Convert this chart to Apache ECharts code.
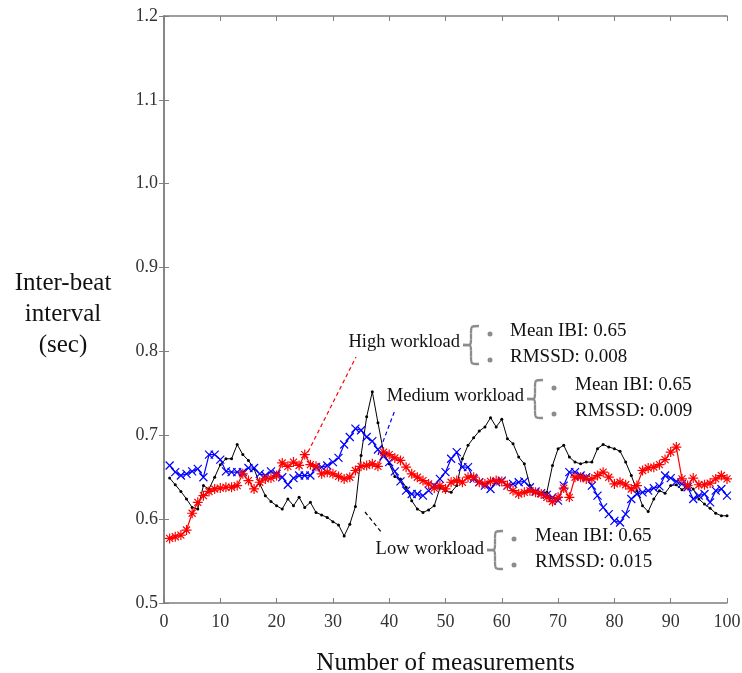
<!DOCTYPE html>
<html>
<head>
<meta charset="utf-8">
<script src="https://cdn.jsdelivr.net/npm/echarts@6/dist/echarts.min.js"></script>
<style>
  html, body { margin: 0; padding: 0; background: #fff; }
  #chart { width: 742px; height: 673px; }
</style>
</head>
<body>
<div id="chart"></div>
<script>
const lowWorkload = [
  0.649, 0.641, 0.633, 0.624, 0.614, 0.612, 0.640, 0.636, 0.650, 0.665,
  0.672, 0.672, 0.689, 0.677, 0.670, 0.660, 0.642, 0.628, 0.621, 0.616,
  0.612, 0.624, 0.616, 0.626, 0.614, 0.620, 0.608, 0.605, 0.602, 0.597,
  0.593, 0.580, 0.594, 0.615, 0.676, 0.722, 0.752, 0.715, 0.680, 0.666,
  0.651, 0.648, 0.638, 0.622, 0.612, 0.608, 0.611, 0.616, 0.637, 0.634,
  0.632, 0.640, 0.672, 0.688, 0.697, 0.705, 0.710, 0.721, 0.710, 0.719,
  0.696, 0.690, 0.674, 0.666, 0.640, 0.632, 0.631, 0.632, 0.664, 0.684,
  0.688, 0.674, 0.668, 0.666, 0.668, 0.668, 0.684, 0.689, 0.686, 0.684,
  0.681, 0.668, 0.652, 0.634, 0.616, 0.609, 0.624, 0.634, 0.631, 0.640,
  0.641, 0.635, 0.641, 0.636, 0.624, 0.618, 0.613, 0.607, 0.604, 0.604
];
const mediumWorkload = [
  0.664, 0.656, 0.652, 0.654, 0.657, 0.660, 0.650, 0.677, 0.677, 0.671,
  0.657, 0.656, 0.656, 0.656, 0.661, 0.661, 0.654, 0.652, 0.657, 0.654,
  0.650, 0.641, 0.649, 0.652, 0.652, 0.652, 0.662, 0.662, 0.664, 0.668,
  0.673, 0.689, 0.698, 0.708, 0.706, 0.698, 0.693, 0.683, 0.675, 0.668,
  0.657, 0.645, 0.634, 0.630, 0.630, 0.628, 0.634, 0.640, 0.648, 0.656,
  0.672, 0.680, 0.662, 0.662, 0.648, 0.644, 0.640, 0.636, 0.644, 0.646,
  0.640, 0.642, 0.644, 0.645, 0.638, 0.633, 0.631, 0.629, 0.626, 0.622,
  0.640, 0.656, 0.656, 0.652, 0.650, 0.640, 0.628, 0.614, 0.606, 0.598,
  0.596, 0.606, 0.624, 0.630, 0.632, 0.634, 0.637, 0.639, 0.652, 0.649,
  0.645, 0.642, 0.638, 0.624, 0.628, 0.630, 0.620, 0.634, 0.636, 0.628
];
const highWorkload = [
  0.577, 0.579, 0.581, 0.587, 0.607, 0.620, 0.628, 0.633, 0.636, 0.637,
  0.638, 0.638, 0.640, 0.654, 0.646, 0.636, 0.644, 0.648, 0.649, 0.652,
  0.667, 0.663, 0.668, 0.664, 0.677, 0.665, 0.663, 0.654, 0.656, 0.654,
  0.651, 0.648, 0.650, 0.658, 0.663, 0.664, 0.666, 0.663, 0.680, 0.677,
  0.673, 0.670, 0.662, 0.654, 0.650, 0.646, 0.642, 0.637, 0.640, 0.636,
  0.644, 0.646, 0.644, 0.650, 0.650, 0.644, 0.642, 0.645, 0.646, 0.645,
  0.640, 0.634, 0.630, 0.632, 0.634, 0.632, 0.630, 0.626, 0.621, 0.626,
  0.637, 0.626, 0.650, 0.650, 0.648, 0.648, 0.652, 0.656, 0.650, 0.642,
  0.644, 0.641, 0.636, 0.640, 0.658, 0.661, 0.662, 0.665, 0.671, 0.680,
  0.686, 0.648, 0.640, 0.649, 0.641, 0.641, 0.643, 0.648, 0.652, 0.648
];

const workloadNames = ['High workload', 'Medium workload', 'Low workload'];
const meanIBI = ['0.65', '0.65', '0.65'];
const rmssd = ['0.008', '0.009', '0.015'];

const toPoints = arr => arr.map((v, i) => [i + 1, v]);

const FONT = 'Liberation Serif';
const FRAME = '#7f7f7f';
const BRACE = '#8c8c8c';

const chart = echarts.init(document.getElementById('chart'));

// curly brace made of curves, tip on the left
function brace(x, y, w, h) {
  const m = x + w / 2;
  const st = { stroke: BRACE, lineWidth: 2.3, fill: null };
  return [
    { type: 'bezierCurve', shape: { x1: x + w, y1: y, cpx1: m, cpy1: y, cpx2: m, cpy2: y, x2: m, y2: y + h * 0.2 }, style: st },
    { type: 'line', shape: { x1: m, y1: y + h * 0.2, x2: m, y2: y + h * 0.36 }, style: st },
    { type: 'bezierCurve', shape: { x1: m, y1: y + h * 0.36, cpx1: m, cpy1: y + h * 0.5, cpx2: m, cpy2: y + h * 0.5, x2: x, y2: y + h * 0.5 }, style: st },
    { type: 'bezierCurve', shape: { x1: x, y1: y + h * 0.5, cpx1: m, cpy1: y + h * 0.5, cpx2: m, cpy2: y + h * 0.5, x2: m, y2: y + h * 0.64 }, style: st },
    { type: 'line', shape: { x1: m, y1: y + h * 0.64, x2: m, y2: y + h * 0.8 }, style: st },
    { type: 'bezierCurve', shape: { x1: m, y1: y + h * 0.8, cpx1: m, cpy1: y + h, cpx2: m, cpy2: y + h, x2: x + w, y2: y + h }, style: st }
  ];
}

// annotation blocks: label right edge, label y, text x, first/second text line y
const blocks = [
  { right: 460, ly: 342, tx: 510, t1: 331, t2: 357 },
  { right: 524, ly: 396, tx: 575, t1: 385, t2: 411 },
  { right: 484, ly: 549, tx: 535, t1: 536, t2: 562 }
];

const graphic = [
  {
    type: 'text', x: 63, y: 268,
    style: { text: 'Inter-beat\ninterval\n(sec)', font: `25px "${FONT}"`, fill: '#111', align: 'center', verticalAlign: 'top', lineHeight: 31 }
  },
  // pointer lines
  { type: 'line', shape: { x1: 308, y1: 452, x2: 356, y2: 357 }, style: { stroke: '#ff0000', lineWidth: 1.2, lineDash: [4, 3] } },
  { type: 'line', shape: { x1: 378, y1: 455, x2: 395, y2: 410 }, style: { stroke: '#0000ff', lineWidth: 1.2, lineDash: [4, 3] } },
  { type: 'line', shape: { x1: 365, y1: 512, x2: 382, y2: 533 }, style: { stroke: '#000000', lineWidth: 1.2, lineDash: [4, 3] } }
];

blocks.forEach((b, i) => {
  const bx = b.right + 3;
  graphic.push(
    { type: 'text', x: b.right, y: b.ly, style: { text: workloadNames[i], font: `18.5px "${FONT}"`, fill: '#111', align: 'right', verticalAlign: 'middle' } },
    ...brace(bx, b.t1 - 5, 16, 38),
    { type: 'circle', shape: { cx: bx + 27, cy: b.t1 + 3, r: 2.5 }, style: { fill: BRACE } },
    { type: 'circle', shape: { cx: bx + 27, cy: b.t2 + 3, r: 2.5 }, style: { fill: BRACE } },
    { type: 'text', x: b.tx, y: b.t1, style: { text: 'Mean IBI: ' + meanIBI[i], font: `19px "${FONT}"`, fill: '#111', verticalAlign: 'middle' } },
    { type: 'text', x: b.tx, y: b.t2, style: { text: 'RMSSD: ' + rmssd[i], font: `19px "${FONT}"`, fill: '#111', verticalAlign: 'middle' } }
  );
});

const frameAxis = {
  axisLine: { show: true, lineStyle: { color: FRAME, width: 1.5 } },
  axisTick: { show: true, inside: true, length: 5, lineStyle: { color: FRAME } },
  splitLine: { show: false }
};

const option = {
  animation: false,
  backgroundColor: '#fff',
  grid: { left: 164, right: 15, top: 16, bottom: 70, outerBoundsMode: 'none', containLabel: false },
  xAxis: [
    {
      type: 'value', min: 0, max: 100, interval: 10,
      name: 'Number of measurements', nameLocation: 'middle', nameGap: 48,
      nameTextStyle: { fontFamily: FONT, fontSize: 25, color: '#111' },
      axisLabel: { fontFamily: FONT, fontSize: 18, color: '#333', margin: 10 },
      ...frameAxis
    },
    {
      type: 'value', min: 0, max: 100, interval: 10, position: 'top',
      axisLabel: { show: false }, ...frameAxis
    }
  ],
  yAxis: [
    {
      type: 'value', min: 0.5, max: 1.2, interval: 0.1,
      axisLabel: { fontFamily: FONT, fontSize: 18, color: '#333', margin: 6, padding: [4, 0, 0, 0], formatter: v => v.toFixed(1) },
      ...frameAxis
    },
    {
      type: 'value', min: 0.5, max: 1.2, interval: 0.1, position: 'right',
      axisLabel: { show: false }, ...frameAxis
    }
  ],
  series: [
    {
      name: 'Low workload', type: 'line', data: toPoints(lowWorkload),
      symbol: 'circle', symbolSize: 3,
      lineStyle: { color: '#000', width: 1 },
      itemStyle: { color: '#000' }
    },
    {
      name: 'Medium workload', type: 'line', data: toPoints(mediumWorkload),
      symbol: 'path://M0,0L10,10M10,0L0,10', symbolSize: 8,
      lineStyle: { color: '#0000ff', width: 1.2 },
      itemStyle: { color: '#0000ff', borderColor: '#0000ff', borderWidth: 1.2 }
    },
    {
      name: 'High workload', type: 'line', data: toPoints(highWorkload),
      symbol: 'path://M5,0L5,10M0,5L10,5M1.5,1.5L8.5,8.5M8.5,1.5L1.5,8.5', symbolSize: 10,
      lineStyle: { color: '#ff0000', width: 1.2 },
      itemStyle: { color: '#ff0000', borderColor: '#ff0000', borderWidth: 1.2 }
    }
  ],
  graphic
};

chart.setOption(option);
</script>
</body>
</html>
